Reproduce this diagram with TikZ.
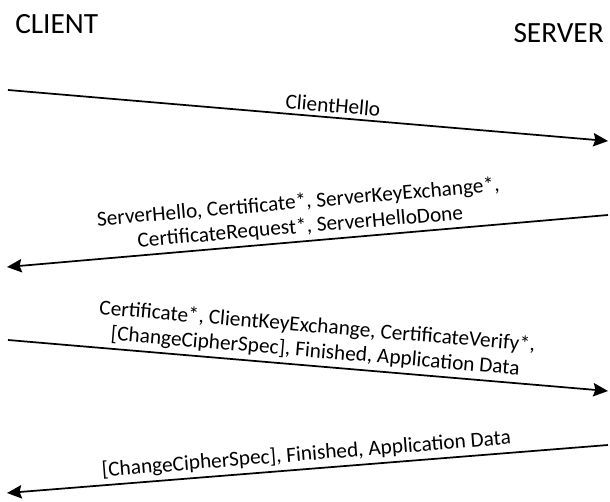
\documentclass[tikz,border=0pt]{standalone}
\usepackage{fontspec}
\setmainfont{Carlito}
\usetikzlibrary{arrows.meta, positioning}

\begin{document}
\begin{tikzpicture}[x=0.75pt, y=-0.75pt]
    \tikzstyle{party} = [font=\fontsize{22}{26}\selectfont, inner sep=0pt]
    \tikzstyle{msg} = [font=\fontsize{16}{18.5}\selectfont, align=center, sloped, above=2pt, inner sep=1pt]
    \tikzstyle{arrow} = [line width=1.3pt, -{Stealth[length=11pt, width=10pt, inset=1.5pt]}]

    \useasboundingbox (0,0) rectangle (610,502);

    \node (client) [party, anchor=west] at (15,24) {CLIENT};
    \node (server) [party, anchor=east] at (604,33) {SERVER};

    \coordinate (c1) at (8,90);
    \coordinate (s1) at (608,141);
    \coordinate (s2) at (608,215);
    \coordinate (c2) at (7,267);
    \coordinate (c3) at (8,340);
    \coordinate (s3) at (608,391);
    \coordinate (s4) at (608,445);
    \coordinate (c4) at (7,493);

    \draw [arrow] (c1) -- node [msg, pos=0.54] {ClientHello} (s1);
    \draw [arrow] (s2) -- node [msg, pos=0.51] {ServerHello, Certificate*, ServerKeyExchange*,\\CertificateRequest*, ServerHelloDone} (c2);
    \draw [arrow] (c3) -- node [msg, pos=0.51] {Certificate*, ClientKeyExchange, CertificateVerify*,\\{}[ChangeCipherSpec], Finished, Application Data} (s3);
    \draw [arrow] (s4) -- node [msg, pos=0.5] {[ChangeCipherSpec], Finished, Application Data} (c4);
\end{tikzpicture}
\end{document}
